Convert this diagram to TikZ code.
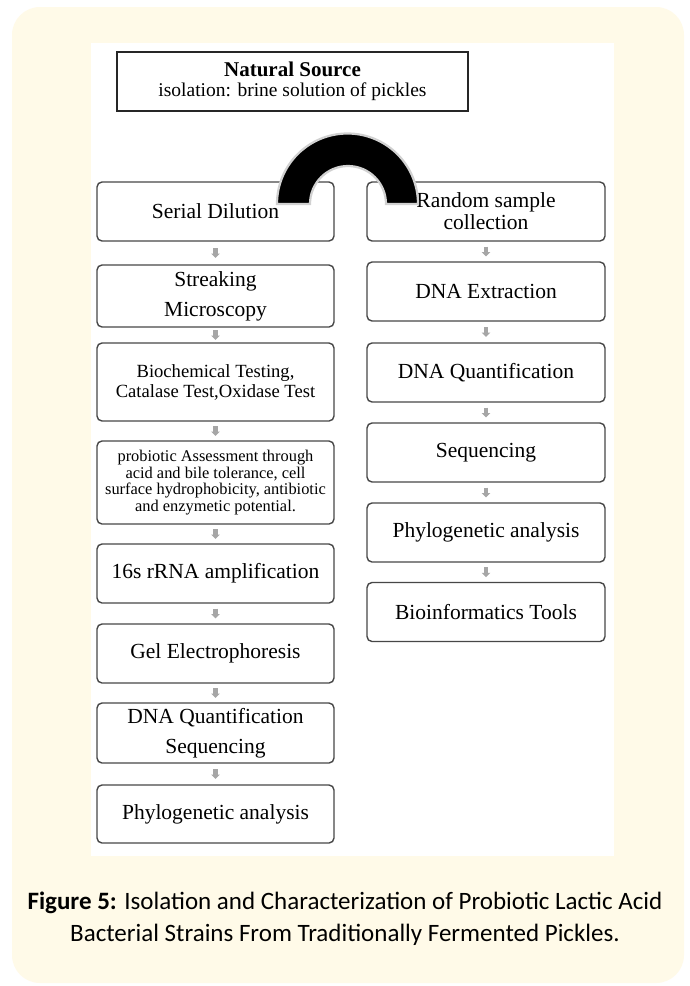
\documentclass[tikz,border=0pt]{standalone}
\usepackage{fontspec}
\setmainfont{Liberation Serif}
\newfontfamily\capfont{Carlito}
\usetikzlibrary{arrows.meta}
\definecolor{cardcream}{HTML}{FFFAE8}
\colorlet{boxline}{black!72}
\colorlet{arrowgrey}{black!35}
\colorlet{archrim}{black!18}

\begin{document}
\begin{tikzpicture}[x=1pt,y=-1pt,
        stepbox/.style={draw=boxline, line width=1.4pt, rounded corners=5pt, fill=white,
            minimum width=237pt, minimum height=59pt, inner sep=0pt, align=center,
            font=\fontsize{21.5}{30}\selectfont},
        flowarrow/.style={draw=arrowgrey, line width=4.5pt,
            -{Triangle[width=8.5pt,length=4.5pt]}}]
    % card and panel
    \useasboundingbox (0,0) rectangle (690,986);
    \fill[white] (0,0) rectangle (690,986);
    \fill[cardcream, rounded corners=28pt] (12,7) rectangle (684,983);
    \fill[white] (91,43) rectangle (614,856);

    % source
    \node[draw=black!85, line width=1.2pt, fill=white, minimum width=351pt, minimum height=59pt,
        inner sep=0pt, align=center] (source) at (292.5,81.5)
        {\fontsize{21}{22}\selectfont\bfseries Natural Source\\[5pt]
         \fontsize{19.5}{22}\selectfont isolation: brine solution of pickles};

    % left column
    \node[stepbox] (serial) at (215.5,211.5) {Serial Dilution};
    \node[stepbox, minimum height=62pt] (streak) at (215.5,296) {Streaking\\Microscopy};
    \node[stepbox, minimum height=78pt, font=\fontsize{18.6}{20}\selectfont] (biochem) at (215.5,382)
        {Biochemical Testing,\\Catalase Test,Oxidase Test};
    \node[stepbox, minimum height=83pt, font=\fontsize{16.4}{16.7}\selectfont] (probio) at (215.5,482.5)
        {probiotic Assessment through\\acid and bile tolerance, cell\\surface hydrophobicity, antibiotic\\and enzymetic potential.};
    \node[stepbox] (rrna) at (215.5,573.5) {16s rRNA amplification};
    \node[stepbox] (gel) at (215.5,653.5) {Gel Electrophoresis};
    \node[stepbox, minimum height=60pt] (dnaqs) at (215.5,733) {DNA Quantification\\Sequencing};
    \node[stepbox, minimum height=58pt] (phylo) at (215.5,814) {Phylogenetic analysis};

    % right column
    \node[stepbox, minimum width=238pt, font=\fontsize{21.5}{22}\selectfont] (random) at (486,211.5)
        {Random sample\\collection};
    \node[stepbox, minimum width=238pt] (dnaext) at (486,291.5) {DNA Extraction};
    \node[stepbox, minimum width=238pt] (dnaquant) at (486,372.5) {DNA Quantification};
    \node[stepbox, minimum width=238pt] (seq) at (486,452.5) {Sequencing};
    \node[stepbox, minimum width=238pt] (phylob) at (486,532.5) {Phylogenetic analysis};
    \node[stepbox, minimum width=238pt] (bioinf) at (486,612) {Bioinformatics Tools};

    % little arrows between the boxes
    \foreach \a/\b in {serial/streak, streak/biochem, biochem/probio, probio/rrna,
                       rrna/gel, gel/dnaqs, dnaqs/phylo,
                       random/dnaext, dnaext/dnaquant, dnaquant/seq, seq/phylob, phylob/bioinf}{
        \path (\a.south) -- coordinate[pos=0.5] (gap-\a) (\b.north);
        \draw[flowarrow] ([yshift=5pt]gap-\a) -- ([yshift=-5pt]gap-\a);
    }

    % arch
    \filldraw[fill=black, draw=archrim, line width=2.2pt]
        (277,204) arc[start angle=180, end angle=360, radius=70.5]
        -- (386,204) arc[start angle=0, end angle=-180, radius=38] -- cycle;

    % caption
    \node[align=center, font=\capfont\fontsize{25}{32}\selectfont] (caption) at (345,919)
        {\textbf{Figure 5:} Isolation and Characterization of Probiotic Lactic Acid\\
         Bacterial Strains From Traditionally Fermented Pickles.};
\end{tikzpicture}
\end{document}
